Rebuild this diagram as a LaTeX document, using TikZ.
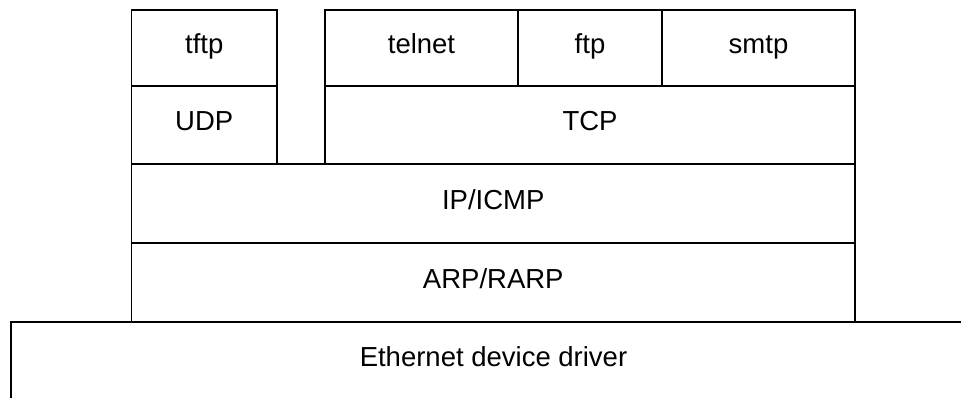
\documentclass[tikz,border=0pt]{standalone}
\usepackage{fontspec}
\setmainfont{Liberation Sans}
\begin{document}
\begin{tikzpicture}[x=1pt,y=-1pt,
  label font/.style={font=\fontsize{27.5}{32}\selectfont, text height=19pt, text depth=7pt},
  layer/.style={draw, line width=1.5pt, inner sep=0pt, outer sep=0pt,
    anchor=north west, label font},
  frame/.style={line width=1.5pt}]
\useasboundingbox (0,0) rectangle (961,398);
% application layer
\node[layer, minimum width=145.5pt, minimum height=76pt] (tftp)   at (131.5,10) {tftp};
\node[layer, minimum width=193pt,   minimum height=76pt] (telnet) at (325,10)   {telnet};
\node[layer, minimum width=144pt,   minimum height=76pt] (ftp)    at (518,10)   {ftp};
\node[layer, minimum width=193pt,   minimum height=76pt] (smtp)   at (662,10)   {smtp};
% transport layer
\node[layer, minimum width=145.5pt, minimum height=78pt] (udp) at (131.5,86) {UDP};
\node[layer, minimum width=530pt,   minimum height=78pt] (tcp) at (325,86)   {TCP};
% network layer
\node[layer, minimum width=723.5pt, minimum height=79pt] (ip)  at (131.5,164) {IP/ICMP};
\node[layer, minimum width=723.5pt, minimum height=79pt] (arp) at (131.5,243) {ARP/RARP};
% driver, open to the right and below
\coordinate (ethtl) at (11,322);
\coordinate (ethtr) at (961,322);
\coordinate (ethbl) at (11,398);
\draw[frame] (ethtr) -- (ethtl) -- (ethbl);
\node[label font, inner sep=0pt] (eth) at (493.5,360) {Ethernet device driver};
\end{tikzpicture}
\end{document}
